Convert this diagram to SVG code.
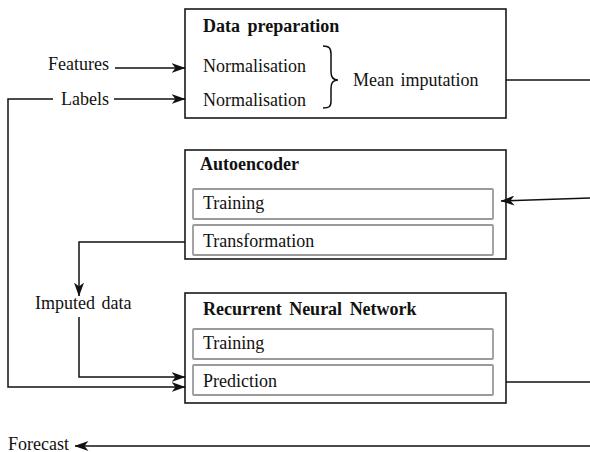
<svg xmlns="http://www.w3.org/2000/svg" width="590" height="452" viewBox="0 0 590 452">
  <style>
    text { font-family: "Liberation Serif", "Times New Roman", serif; font-size: 18px; fill: #111; }
    .title { font-weight: bold; word-spacing: 3px; }
    .box { fill: #fff; stroke: #1a1a1a; stroke-width: 1.6; }
    .sub { fill: #fff; stroke: #9a9a9a; stroke-width: 1.8; }
    .wire { fill: none; stroke: #111; stroke-width: 1.5; }
  </style>
  <defs>
    <!-- stealth-style arrowhead -->
    <marker id="arrow" viewBox="0 0 14 10" refX="13.5" refY="5" markerWidth="14" markerHeight="10" markerUnits="userSpaceOnUse" orient="auto">
      <path d="M0,0 L14,5 L0,10 L4,5 Z" fill="#111"/>
    </marker>
  </defs>

  <rect width="590" height="452" fill="#fff"/>

  <!-- Data preparation -->
  <g id="data-preparation">
    <rect class="box" x="185" y="9" width="321" height="109"/>
    <text class="title" x="203" y="32">Data preparation</text>
    <text x="203" y="72">Normalisation</text>
    <text x="203" y="106">Normalisation</text>
    <path class="wire" d="M323,46 C329,46 331,48 331,54 L331,72 C331,77 333,80 338,80 C333,80 331,83 331,88 L331,101 C331,107 329,108 323,108"/>
    <text x="353" y="86" style="word-spacing:2px">Mean imputation</text>
  </g>

  <!-- Autoencoder -->
  <g id="autoencoder">
    <rect class="box" x="185" y="150" width="321" height="109"/>
    <text class="title" x="200" y="170">Autoencoder</text>
    <rect class="sub" x="193" y="189" width="300" height="30" rx="1"/>
    <text x="203" y="209">Training</text>
    <rect class="sub" x="193" y="225" width="300" height="30" rx="1"/>
    <text x="203" y="247">Transformation</text>
  </g>

  <!-- Recurrent Neural Network -->
  <g id="rnn">
    <rect class="box" x="185" y="293" width="321" height="110"/>
    <text class="title" x="203" y="315">Recurrent Neural Network</text>
    <rect class="sub" x="193" y="329" width="300" height="30" rx="1"/>
    <text x="203" y="349">Training</text>
    <rect class="sub" x="193" y="365" width="300" height="30" rx="1"/>
    <text x="203" y="387">Prediction</text>
  </g>

  <!-- Free labels -->
  <g id="labels">
    <text x="109" y="70" text-anchor="end">Features</text>
    <text x="109" y="105" text-anchor="end">Labels</text>
    <text x="35" y="309" style="word-spacing:2px">Imputed data</text>
    <text x="8" y="450">Forecast</text>
  </g>

  <!-- Connectors -->
  <g id="connectors">
    <path class="wire" d="M115,68 L185,68" marker-end="url(#arrow)"/>
    <path class="wire" d="M114,99 L185,99" marker-end="url(#arrow)"/>
    <path class="wire" d="M53,99 L8,99 L8,387 L185,387" marker-end="url(#arrow)"/>
    <path class="wire" d="M506,80 L590,80"/>
    <path class="wire" d="M590,198 L501,201" marker-end="url(#arrow)"/>
    <path class="wire" d="M185,242 L79,242 L79,296" marker-end="url(#arrow)"/>
    <path class="wire" d="M79,317 L79,377 L185,377" marker-end="url(#arrow)"/>
    <path class="wire" d="M506,382 L590,382"/>
    <path class="wire" d="M590,446 L75,446" marker-end="url(#arrow)"/>
  </g>
</svg>
